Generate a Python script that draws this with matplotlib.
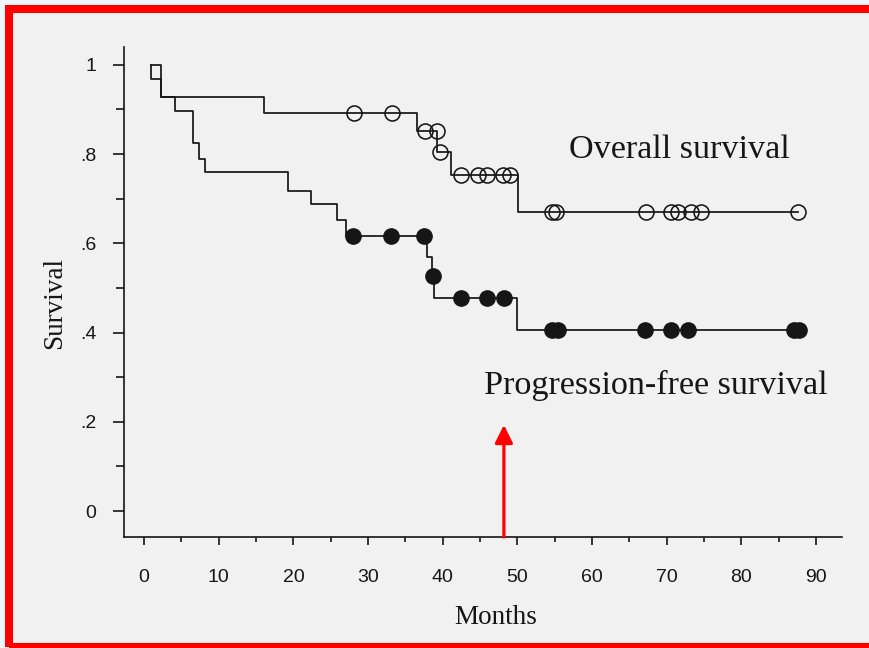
import matplotlib
matplotlib.use("Agg")
import matplotlib.pyplot as plt
import numpy as np
from matplotlib.patches import Rectangle

# ----------------------------------------------------------------------------
# Kaplan-Meier steps: time (months) where the curve changes,
# and the survival level right after it.
# ----------------------------------------------------------------------------
OS_TIMES = [0.9, 2.2, 16.1, 36.5, 39.3, 41.1, 50.1]
OS_SURV = [1.0, 0.927, 0.893, 0.852, 0.804, 0.753, 0.670]
OS_END = 87.6
OS_CENSORED = [28.1, 33.2, 37.6, 39.2, 39.7, 42.5, 44.7, 45.9, 48.1, 49.0,
               54.6, 55.2, 67.3, 70.6, 71.5, 73.3, 74.6, 87.6]

PFS_TIMES = [0.9, 0.9, 2.2, 4.1, 6.6, 7.4, 8.1, 19.3, 22.3, 25.8, 27.1,
             37.9, 38.6, 38.9, 50.0]
PFS_SURV = [1.0, 0.969, 0.927, 0.896, 0.824, 0.789, 0.759, 0.718, 0.688,
            0.653, 0.617, 0.570, 0.526, 0.477, 0.406]
PFS_END = 87.7
PFS_CENSORED = [28.0, 33.1, 37.5, 38.75, 42.5, 45.9, 48.2, 54.6, 55.4,
                67.1, 70.6, 72.9, 87.1, 87.7]

X_TICKS = [0, 10, 20, 30, 40, 50, 60, 70, 80, 90]
Y_TICKS = [0, 0.2, 0.4, 0.6, 0.8, 1.0]
Y_TICK_LABELS = ["0", ".2", ".4", ".6", ".8", "1"]

ARROW_MONTH = 48.2

INK = "#161616"
PAPER = "#f1f1f1"
OUTSIDE = "#eef6fc"
SERIF = ["Liberation Serif", "DejaVu Serif"]
SANS = ["Liberation Sans", "DejaVu Sans"]


def level_at(times, surv, t):
    """Survival level of a post-step curve at time t."""
    idx = np.searchsorted(np.asarray(times), t, side="right") - 1
    return np.asarray(surv)[np.clip(idx, 0, len(surv) - 1)]


def step_xy(times, surv, end):
    return list(times) + [end], list(surv) + [surv[-1]]


W, H = 869, 648
fig = plt.figure(figsize=(W / 100, H / 100), dpi=100, facecolor=OUTSIDE)

# scanned page with a red frame; right and bottom edges run off the picture
page = ((9 / W, (H - 647) / H), (873 - 9) / W, (647 - 9) / H)
fig.patches.append(Rectangle(*page, transform=fig.transFigure,
                             facecolor=PAPER, edgecolor="none", zorder=-10))
fig.patches.append(Rectangle(*page, transform=fig.transFigure, fill=False,
                             edgecolor="#ff0000", linewidth=5.8, zorder=10))

# axes box in pixel terms: x from 124 to 842, y from 47 to 537
ax = fig.add_axes([124 / W, 1 - 537 / H, (842 - 124) / W, (537 - 47) / H])
ax.set_facecolor(PAPER)

x, y = step_xy(OS_TIMES, OS_SURV, OS_END)
ax.step(x, y, where="post", color=INK, lw=1.25)
x, y = step_xy(PFS_TIMES, PFS_SURV, PFS_END)
ax.step(x, y, where="post", color=INK, lw=1.25)

os_c = np.array(OS_CENSORED)
ax.plot(os_c, level_at(OS_TIMES, OS_SURV, os_c), "o", ms=10.8,
        mfc="none", mec=INK, mew=1.15, zorder=3)
pfs_c = np.array(PFS_CENSORED)
ax.plot(pfs_c, level_at(PFS_TIMES, PFS_SURV, pfs_c), "o", ms=11,
        mfc=INK, mec=INK, mew=1.0, zorder=3)

ax.text(56.9, 0.809, "Overall survival", family=SERIF, fontsize=24.6,
        color=INK, va="center", ha="left")
ax.text(45.5, 0.2825, "Progression-free survival", family=SERIF,
        fontsize=24.6, color=INK, va="center", ha="left")

ax.set_xlim(-2.7, 93.5)
ax.set_ylim(-0.058, 1.04)

for side in ("top", "right"):
    ax.spines[side].set_visible(False)
for side in ("left", "bottom"):
    ax.spines[side].set_linewidth(1.2)
    ax.spines[side].set_color(INK)

ax.set_xticks(X_TICKS)
ax.set_xticks(np.arange(5, 95, 10), minor=True)
ax.set_yticks(Y_TICKS)
ax.set_yticklabels(Y_TICK_LABELS)
ax.set_yticks([0.1, 0.3, 0.5, 0.7, 0.9], minor=True)

ax.tick_params(axis="x", which="major", direction="out", length=6,
               width=1.2, color=INK, pad=17, labelsize=14, labelcolor=INK)
ax.tick_params(axis="x", which="minor", direction="out", length=3.5,
               width=1.2, color=INK)
ax.tick_params(axis="y", which="major", direction="out", length=8,
               width=1.2, color=INK, pad=12, labelsize=14, labelcolor=INK)
ax.tick_params(axis="y", which="minor", direction="out", length=5.5,
               width=1.2, color=INK)
for lab in ax.get_xticklabels() + ax.get_yticklabels():
    lab.set_family(SANS)

fig.text(496 / W, 1 - 617 / H, "Months", family=SERIF, fontsize=19.5,
         color=INK, ha="center", va="center")
fig.text(55 / W, 1 - 303 / H, "Survival", family=SERIF, fontsize=19.5,
         color=INK, ha="center", va="center", rotation=90)

# red annotation arrow pointing up from the x axis
ax.annotate("", xy=(ARROW_MONTH, 0.193), xytext=(ARROW_MONTH, -0.058),
            arrowprops=dict(arrowstyle="-|>", color="#ff0000", lw=2.3,
                            mutation_scale=27, shrinkA=0, shrinkB=0))

fig.savefig("out.png", dpi=100, facecolor=OUTSIDE)
